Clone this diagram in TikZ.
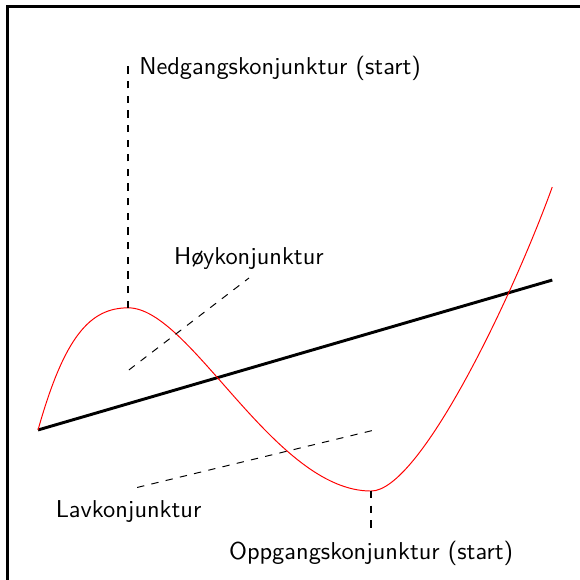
\documentclass[tikz,border=0pt]{standalone}
\usepackage{tikz}
\usetikzlibrary{positioning}

\begin{document}
\begin{tikzpicture}[
  font=\sffamily,
  every node/.style={align=center},
  frame/.style={line width=1.2pt, black},
  trend/.style={line width=1.2pt, black},
  cycle/.style={red, line width=0.4pt},
  marker/.style={thick, dashed, black},
  guide/.style={thin, dashed, black},
  lbl/.style={inner sep=3.33pt, text=black}
]
  \useasboundingbox (-0.548,-2.161) rectangle (7.810,6.196);
  \draw[frame] (-0.44,-2.4) |- (8.1,6.10);

  \coordinate (o)      at (0,0);
  \coordinate (peak)   at (1.3,1.76);
  \coordinate (trough) at (4.8,-0.88);
  \coordinate (e)      at (7.41,3.50);
  \coordinate (tend)   at (7.41,2.16);
  \coordinate (nedtop) at (1.3,5.25);
  \coordinate (oppbot) at (4.8,-1.45);
  \coordinate (hoyA)   at (1.31,0.865);
  \coordinate (hoyB)   at (3.04,2.19);
  \coordinate (lavA)   at (4.81,-0.01);
  \coordinate (lavB)   at (1.34,-0.85);

  % trend and business cycle
  \draw[trend] (o) -- (tend);
  \draw[cycle] (o) .. controls (0.38,1.35) and (0.75,1.76) .. (peak)
               .. controls (2.2,1.76) and (3.4,-0.88) .. (trough)
               .. controls (5.5,-0.88) and (6.83,1.90) .. (e);

  \node[lbl, right=1pt of nedtop, yshift=-1pt] (ned) {Nedgangskonjunktur (start)};
  \node[lbl, below=1pt of oppbot] (opp) {Oppgangskonjunktur (start)};
  \node[lbl, above] (hoy) at (hoyB) {Høykonjunktur};
  \node[lbl, below=1.2pt of lavB, xshift=-1pt] (lav) {Lavkonjunktur};

  \draw[marker] (peak) -- (nedtop);
  \draw[marker] (trough) -- (oppbot);
  \draw[guide] (hoyA) -- (hoy.south);
  \draw[guide] (lavA) -- (lavB);
\end{tikzpicture}
\end{document}
